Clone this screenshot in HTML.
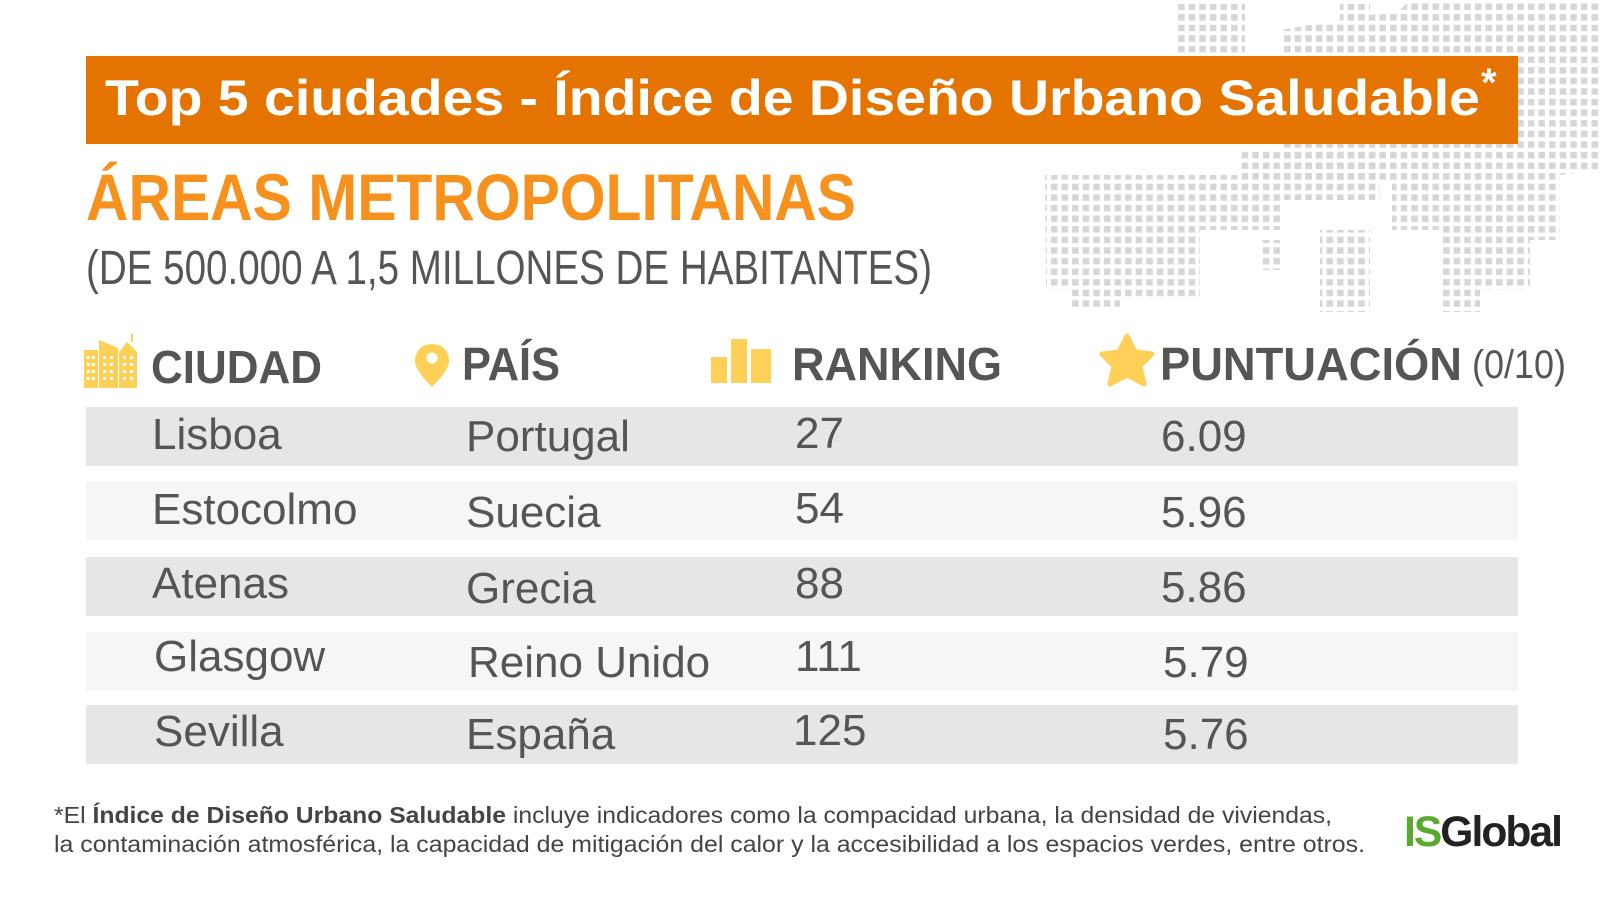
<!DOCTYPE html>
<html><head><meta charset="utf-8"><style>
html,body{margin:0;padding:0;background:#fff;width:1600px;height:900px;overflow:hidden}
svg{display:block}
</style></head><body>
<svg width="1600" height="900" viewBox="0 0 1600 900" xmlns="http://www.w3.org/2000/svg" font-family="Liberation Sans, sans-serif">
<defs>
<pattern id="dots" x="0" y="2" width="10.6" height="10.6" patternUnits="userSpaceOnUse">
<rect x="1.5" y="1.5" width="6.5" height="6.5" fill="#d6d6d6"/>
</pattern>
</defs>
<g fill="url(#dots)">
<polygon points="1175,4 1245,4 1245,54 1175,54"/>
<polygon points="1340,4 1370,4 1370,20 1340,20"/>
<polygon points="1410,0 1600,0 1600,170 1560,175 1560,240 1530,240 1530,290 1480,290 1480,312 1440,312 1440,230 1392,230 1392,180 1280,180 1280,30 1400,10"/>
<polygon points="1045,175 1240,175 1240,150 1380,150 1380,200 1280,200 1280,230 1200,230 1200,300 1120,300 1120,310 1068,310 1068,290 1046,290"/>
<polygon points="1320,230 1370,230 1370,312 1320,312"/>
<polygon points="1260,240 1280,240 1280,270 1260,270"/>
</g>
<rect x="86" y="56" width="1432" height="88" fill="#e57300"/>
<text x="105" y="115" font-size="50" font-weight="bold" fill="#fff" textLength="1375" lengthAdjust="spacingAndGlyphs">Top 5 ciudades - Índice de Diseño Urbano Saludable</text>
<text x="1481" y="96" font-size="40" font-weight="bold" fill="#fff">*</text>
<text x="86" y="220" font-size="66" font-weight="bold" fill="#f7911e" textLength="770" lengthAdjust="spacingAndGlyphs">ÁREAS METROPOLITANAS</text>
<text x="86" y="284" font-size="48" fill="#555" textLength="846" lengthAdjust="spacingAndGlyphs">(DE 500.000 A 1,5 MILLONES DE HABITANTES)</text>
<g fill="#ffd058">
<rect x="84" y="350" width="14" height="38"/>
<polygon points="99,388 99,340 118,348 118,388"/>
<polygon points="119,388 119,352 127,342 137,352 137,388"/>
<rect x="131" y="334" width="2" height="8"/>
</g>
<g fill="#fff"><rect x="87" y="356" width="3" height="3"/><rect x="92" y="356" width="3" height="3"/><rect x="87" y="363" width="3" height="3"/><rect x="92" y="363" width="3" height="3"/><rect x="87" y="370" width="3" height="3"/><rect x="92" y="370" width="3" height="3"/><rect x="87" y="377" width="3" height="3"/><rect x="92" y="377" width="3" height="3"/>
<rect x="103" y="356" width="3" height="3"/><rect x="110" y="356" width="3" height="3"/><rect x="103" y="363" width="3" height="3"/><rect x="110" y="363" width="3" height="3"/><rect x="103" y="370" width="3" height="3"/><rect x="110" y="370" width="3" height="3"/><rect x="103" y="377" width="3" height="3"/><rect x="110" y="377" width="3" height="3"/>
<rect x="123" y="356" width="3" height="3"/><rect x="130" y="356" width="3" height="3"/><rect x="123" y="363" width="3" height="3"/><rect x="130" y="363" width="3" height="3"/><rect x="123" y="370" width="3" height="3"/><rect x="130" y="370" width="3" height="3"/><rect x="123" y="377" width="3" height="3"/><rect x="130" y="377" width="3" height="3"/></g>
<path d="M432,344 C421,344 415,352 415,361 C415,369 425,380 432,387 C439,380 449,369 449,361 C449,352 443,344 432,344 Z" fill="#ffd058"/>
<circle cx="432" cy="358" r="5.5" fill="#fff"/>
<g fill="#ffd058"><rect x="711" y="357" width="16" height="26"/><rect x="731" y="339" width="16" height="44"/><rect x="751" y="349" width="20" height="34"/></g>
<polygon points="1127,336 1135,352 1152,354 1140,366 1144,384 1127,375 1110,384 1114,366 1102,354 1119,352" fill="#ffd058" stroke="#ffd058" stroke-width="5" stroke-linejoin="round"/>
<g font-weight="bold" fill="#555" font-size="46">
<text x="151" y="383" textLength="171" lengthAdjust="spacingAndGlyphs">CIUDAD</text>
<text x="462" y="380" textLength="98" lengthAdjust="spacingAndGlyphs">PAÍS</text>
<text x="792" y="380" textLength="210" lengthAdjust="spacingAndGlyphs">RANKING</text>
<text x="1160" y="380" textLength="302" lengthAdjust="spacingAndGlyphs">PUNTUACIÓN</text>
</g>
<text x="1472" y="378" font-size="40" fill="#555" textLength="94" lengthAdjust="spacingAndGlyphs">(0/10)</text>
<rect x="86" y="407" width="1432" height="59" fill="#e6e6e6"/>
<rect x="86" y="481" width="1432" height="59" fill="#f6f6f6"/>
<rect x="86" y="557" width="1432" height="59" fill="#e6e6e6"/>
<rect x="86" y="632" width="1432" height="59" fill="#f6f6f6"/>
<rect x="86" y="705" width="1432" height="59" fill="#e6e6e6"/>
<g font-size="44" fill="#555">
<text x="152" y="449">Lisboa</text><text x="466" y="451">Portugal</text><text x="795" y="448">27</text><text x="1161" y="451">6.09</text>
<text x="152" y="524">Estocolmo</text><text x="466" y="527">Suecia</text><text x="795" y="523">54</text><text x="1161" y="527">5.96</text>
<text x="152" y="598">Atenas</text><text x="466" y="603">Grecia</text><text x="795" y="598">88</text><text x="1161" y="602">5.86</text>
<text x="154" y="671">Glasgow</text><text x="468" y="677">Reino Unido</text><text x="795" y="671">111</text><text x="1163" y="677">5.79</text>
<text x="154" y="746">Sevilla</text><text x="466" y="749">España</text><text x="793" y="745">125</text><text x="1163" y="749">5.76</text>
</g>
<text x="54" y="823" font-size="23" fill="#444" textLength="1278" lengthAdjust="spacingAndGlyphs">*El <tspan font-weight="bold">Índice de Diseño Urbano Saludable</tspan>  incluye indicadores como la compacidad urbana, la densidad de viviendas,</text>
<text x="54" y="852" font-size="23" fill="#444" textLength="1311" lengthAdjust="spacingAndGlyphs">la contaminación atmosférica, la capacidad de mitigación del calor y la accesibilidad a los espacios verdes, entre otros.</text>
<text x="1404" y="846" font-size="43" font-weight="bold" letter-spacing="-2" textLength="157" lengthAdjust="spacingAndGlyphs"><tspan fill="#5aaa2e">IS</tspan><tspan fill="#222">Global</tspan></text>
</svg>
</body></html>
